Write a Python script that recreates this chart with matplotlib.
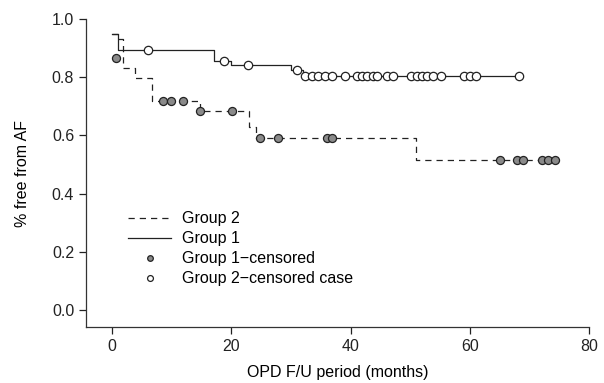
import numpy as np
import matplotlib.pyplot as plt

plt.rcParams['font.family'] = ['Liberation Sans', 'DejaVu Sans']

# Group 1 (solid line) step curve
g1_times = [0, 1, 17, 20, 30, 32, 68.2]
g1_surv = [0.95, 0.895, 0.857, 0.842, 0.825, 0.805, 0.805]

# Group 2 (dashed line) step curve
g2_times = [0, 1, 1.8, 3.9, 6.7, 14.8, 23.0, 24.2, 51.0, 74.3]
g2_surv = [0.95, 0.93, 0.83, 0.797, 0.72, 0.685, 0.63, 0.59, 0.515, 0.515]

# censored marks on the dashed curve (grey filled)
cens_g_t = [0.7, 8.6, 9.8, 11.9, 14.8, 20.1, 24.8, 27.9, 36.1, 36.9,
            65.1, 67.9, 69.0, 72.1, 73.2, 74.3]
cens_g_s = [0.865, 0.72, 0.72, 0.72, 0.685, 0.685, 0.59, 0.59, 0.59, 0.59,
            0.515, 0.515, 0.515, 0.515, 0.515, 0.515]

# censored marks on the solid curve (open)
cens_o_t = [6.0, 18.8, 22.8, 31.0, 32.4, 33.5, 34.6, 35.7, 36.9, 39.0,
            41.0, 41.9, 42.8, 43.7, 44.5, 46.1, 47.1, 50.2, 51.1, 52.0,
            52.9, 53.8, 55.2, 59.1, 60.1, 61.1, 68.2]
cens_o_s = [0.895, 0.857, 0.842, 0.825] + [0.805] * 23

fig = plt.figure(figsize=(6.04, 3.83), dpi=100)
ax = fig.add_axes([86 / 604, 1 - 327 / 383, (589 - 86) / 604, (327 - 19) / 383])

ax.step(g2_times, g2_surv, where='post', color='#222222', lw=0.9,
        linestyle=(0, (5, 4)), label='Group 2', zorder=2)
ax.step(g1_times, g1_surv, where='post', color='#222222', lw=0.9,
        label='Group 1', zorder=2)
ax.plot(cens_g_t, cens_g_s, 'o', ms=5.8, mfc='#8a8a8a', mec='#222222', mew=0.9,
        label='Group 1\u2212censored', zorder=3)
ax.plot(cens_o_t, cens_o_s, 'o', ms=6.0, mfc='white', mec='#222222', mew=0.9,
        label='Group 2\u2212censored case', zorder=3)

ax.set_xlim(-4.4, 80)
ax.set_ylim(-0.058, 1.0)
ax.set_xticks([0, 20, 40, 60, 80])
ax.set_yticks([0.0, 0.2, 0.4, 0.6, 0.8, 1.0])
ax.set_yticklabels([f"{v:.1f}" for v in [0.0, 0.2, 0.4, 0.6, 0.8, 1.0]])
ax.spines['top'].set_visible(False)
ax.spines['right'].set_visible(False)
for s in ['left', 'bottom']:
    ax.spines[s].set_linewidth(0.9)
    ax.spines[s].set_color('#333333')
ax.tick_params(direction='out', length=5, width=0.9, labelsize=11.5, colors='#222222')

ax.set_xlabel('OPD F/U period (months)', fontsize=11.5, labelpad=8)
ax.set_ylabel('% free from AF', fontsize=11.5, labelpad=16)

leg = ax.legend(loc='lower left', bbox_to_anchor=(0.055, 0.085), frameon=False,
                fontsize=11.5, handlelength=2.7, handletextpad=0.7,
                labelspacing=0.32, markerscale=0.7)

fig.savefig('out.png', dpi=100)
